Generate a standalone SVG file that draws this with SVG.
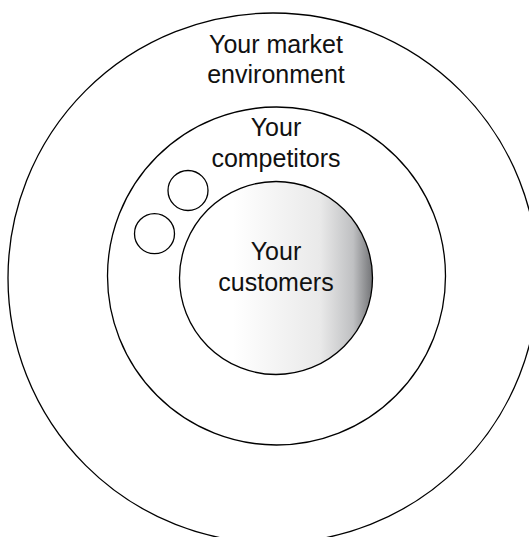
<svg xmlns="http://www.w3.org/2000/svg" width="529" height="537" viewBox="0 0 529 537">
<defs>
<linearGradient id="g" x1="0" y1="0" x2="1" y2="0">
<stop offset="0" stop-color="#ffffff"/>
<stop offset="0.28" stop-color="#ffffff"/>
<stop offset="0.73" stop-color="#e9e9e9"/>
<stop offset="0.9" stop-color="#bfc0c2"/>
<stop offset="1" stop-color="#737477"/>
</linearGradient>
<style>
.c{fill:none;stroke:#000;stroke-width:1.3}
.t{font-family:"Liberation Sans",Arial,sans-serif;font-size:25px;fill:#111;text-anchor:middle}
</style>
</defs>
<rect width="529" height="537" fill="#fff"/>
<g id="market">
<circle class="c" cx="273" cy="278" r="265"/>
<text class="t" x="276" y="53">Your market</text>
<text class="t" x="276" y="83">environment</text>
</g>
<g id="competitors">
<circle class="c" cx="276.5" cy="276" r="169"/>
<text class="t" x="276" y="136">Your</text>
<text class="t" x="276" y="167">competitors</text>
</g>
<g id="competitor1"><circle class="c" cx="188" cy="190.5" r="20"/></g>
<g id="competitor2"><circle class="c" cx="154.5" cy="233.7" r="20"/></g>
<g id="customers">
<circle cx="276" cy="278" r="96.5" fill="url(#g)" stroke="#000" stroke-width="1.3"/>
<text class="t" x="276" y="260">Your</text>
<text class="t" x="276" y="291">customers</text>
</g>
<g id="connectors"/>
</svg>
